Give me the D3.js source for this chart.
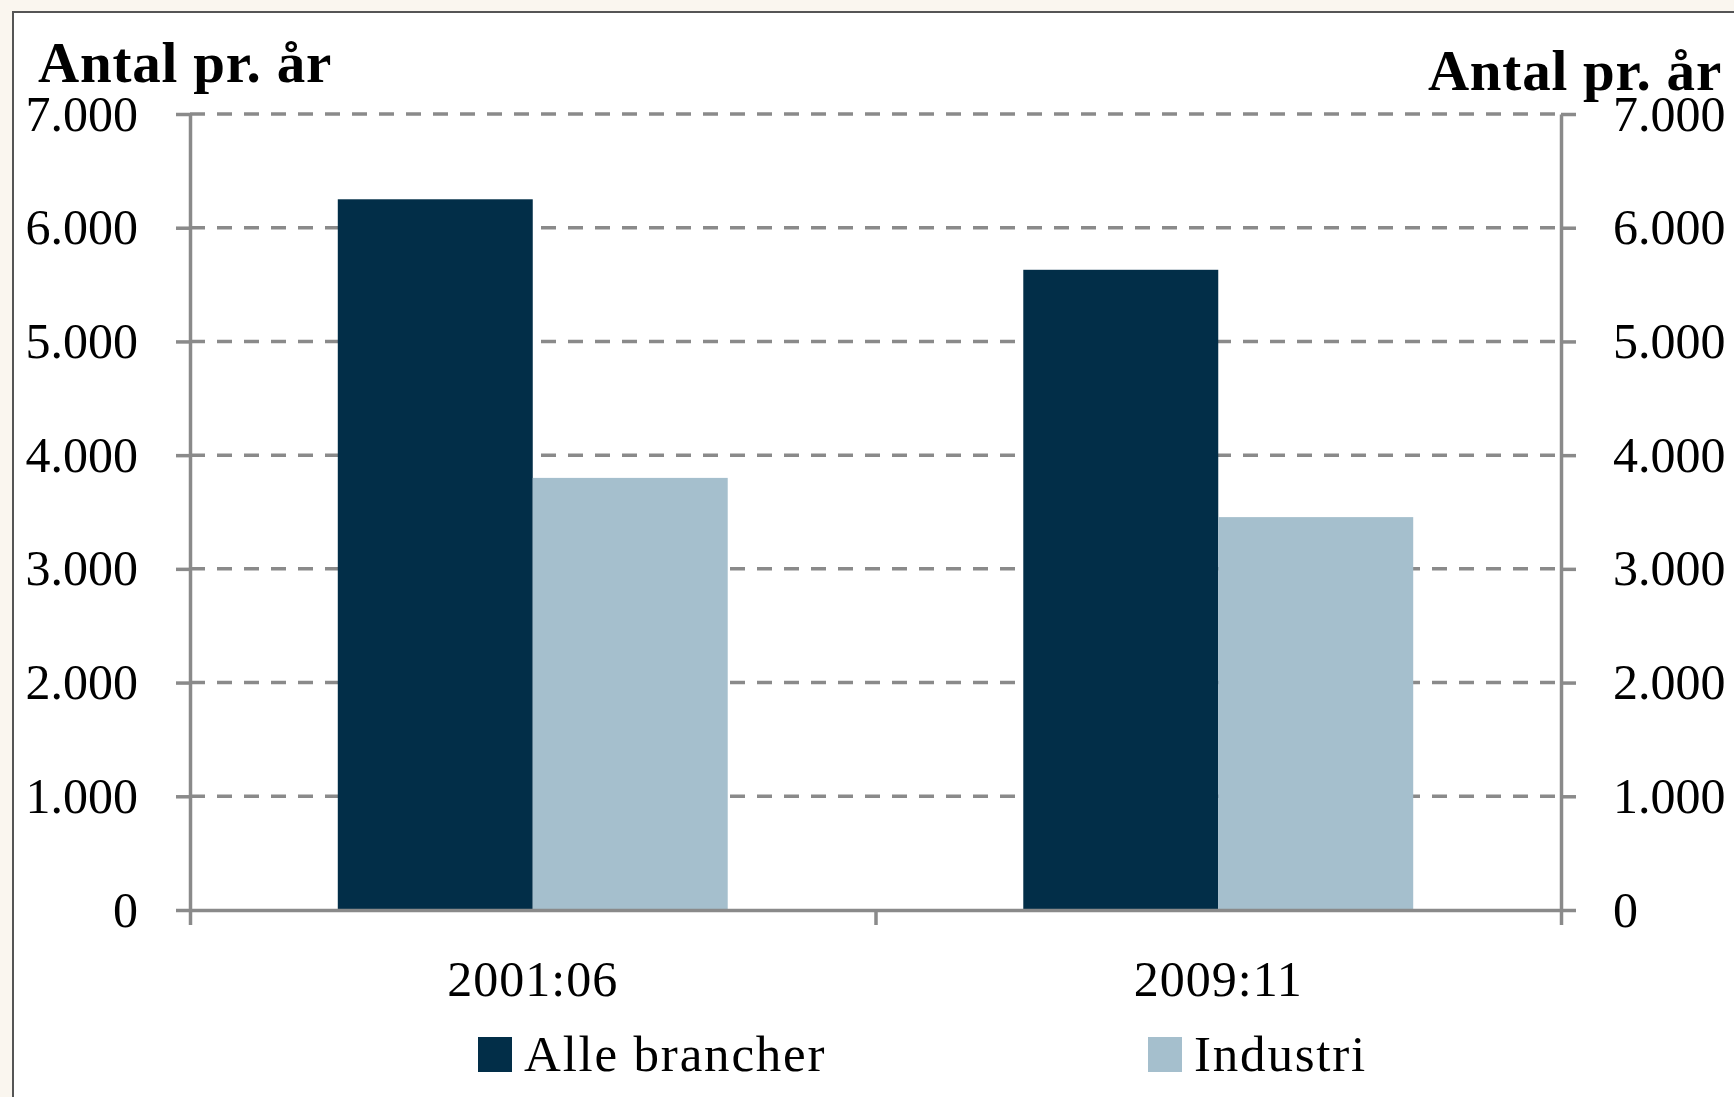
<!DOCTYPE html>
<html>
<head>
<meta charset="utf-8">
<script src="https://cdn.jsdelivr.net/npm/d3@7"></script>
<style>
  body { margin: 0; background: #faf6ef; }
  svg text { font-family: "Liberation Serif", "Times New Roman", serif; fill: #000; }
</style>
</head>
<body>
<div id="chart"></div>
<script>
// Data
var categories = ["2001:06", "2009:11"];
var seriesNames = ["Alle brancher", "Industri"];
var alleBrancher = [6250, 5630];
var industri = [3800, 3455];
var yTicks = [0, 1000, 2000, 3000, 4000, 5000, 6000, 7000];
var axisTitle = "Antal pr. år";

var colors = ["#022e48", "#a5bfcd"];

// SVG window
var svgWidth = 1734;
var svgHeight = 1097;

var plot = { left: 190, right: 1561, top: 114, bottom: 910 };

var svg = d3.select("#chart")
  .append("svg")
  .attr("width", svgWidth)
  .attr("height", svgHeight);

// frame
svg.append("rect")
  .attr("x", 13)
  .attr("y", 12)
  .attr("width", svgWidth)
  .attr("height", svgHeight)
  .attr("fill", "#fff")
  .attr("stroke", "#555")
  .attr("stroke-width", 2);

// Scales
var yScale = d3.scaleLinear()
  .domain([0, 7000])
  .range([plot.bottom, plot.top]);

var x0 = d3.scaleBand()
  .domain(categories)
  .range([plot.left, plot.right])
  .padding(0);

var x1 = d3.scaleBand()
  .domain(seriesNames)
  .range([0, x0.bandwidth()])
  .paddingInner(0)
  .paddingOuter(0.758);

var locale = d3.formatLocale({ decimal: ",", thousands: ".", grouping: [3], currency: ["", ""] });
var fmt = locale.format(",");

// Gridlines
svg.append("g")
  .selectAll("line")
  .data(yTicks.filter(d => d > 0))
  .enter()
  .append("line")
  .attr("x1", plot.left)
  .attr("x2", plot.right)
  .attr("y1", d => yScale(d))
  .attr("y2", d => yScale(d))
  .attr("stroke", "#8a8a8a")
  .attr("stroke-width", 3.5)
  .attr("stroke-dasharray", "15,12");

// Bars
var rows = categories.map((c, i) => ({ cat: c, values: [alleBrancher[i], industri[i]] }));

var groups = svg.append("g")
  .selectAll("g")
  .data(rows)
  .enter()
  .append("g")
  .attr("transform", d => `translate(${x0(d.cat)},0)`);

groups.selectAll("rect")
  .data(d => d.values.map((v, j) => ({ name: seriesNames[j], value: v, j: j })))
  .enter()
  .append("rect")
  .attr("x", d => x1(d.name))
  .attr("width", x1.bandwidth())
  .attr("y", d => yScale(d.value))
  .attr("height", d => yScale(0) - yScale(d.value))
  .attr("fill", d => colors[d.j]);

// Axes
function styleAxis(g) {
  g.selectAll("path, line").attr("stroke", "#8a8a8a").attr("stroke-width", 3.5);
  g.selectAll("text").style("font-size", "50px").attr("fill", "#000");
}

var leftAxis = d3.axisLeft(yScale)
  .tickValues(yTicks)
  .tickFormat(fmt)
  .tickSize(14)
  .tickSizeOuter(0)
  .tickPadding(38);

svg.append("g")
  .attr("transform", `translate(${plot.left},0)`)
  .call(leftAxis)
  .call(styleAxis);

var rightAxis = d3.axisRight(yScale)
  .tickValues(yTicks)
  .tickFormat(fmt)
  .tickSize(15)
  .tickSizeOuter(0)
  .tickPadding(37);

svg.append("g")
  .attr("transform", `translate(${plot.right},0)`)
  .call(rightAxis)
  .call(styleAxis);

// bottom axis with ticks on category boundaries
var boundary = d3.scaleLinear()
  .domain([0, categories.length])
  .range([plot.left, plot.right]);

var bottomAxis = d3.axisBottom(boundary)
  .tickValues(d3.range(categories.length + 1))
  .tickFormat("")
  .tickSize(15)
  .tickSizeOuter(0);

svg.append("g")
  .attr("transform", `translate(0,${plot.bottom})`)
  .call(bottomAxis)
  .call(styleAxis);

// category labels
var catAxis = d3.axisBottom(x0)
  .tickSize(0)
  .tickPadding(50);

var catG = svg.append("g")
  .attr("transform", `translate(0,${plot.bottom})`)
  .call(catAxis);
catG.select(".domain").remove();
catG.selectAll("text")
  .style("font-size", "50px")
  .style("letter-spacing", "1px")
  .attr("fill", "#000");

// Axis titles
svg.append("text")
  .attr("x", 38)
  .attr("y", 82)
  .style("font-size", "57px")
  .style("font-weight", "bold")
  .style("letter-spacing", "0.8px")
  .text(axisTitle);

svg.append("text")
  .attr("x", 1722)
  .attr("y", 90)
  .attr("text-anchor", "end")
  .style("font-size", "57px")
  .style("font-weight", "bold")
  .style("letter-spacing", "0.8px")
  .text(axisTitle);

// Legend
var legendX = [478, 1148];
var legend = svg.append("g")
  .selectAll("g")
  .data(seriesNames)
  .enter()
  .append("g")
  .attr("transform", (d, i) => `translate(${legendX[i]},1037)`);

legend.append("rect")
  .attr("width", 34)
  .attr("height", 35)
  .attr("fill", (d, i) => colors[i]);

legend.append("text")
  .attr("x", 46)
  .attr("y", 34)
  .style("font-size", "51px")
  .style("letter-spacing", "1.8px")
  .text(d => d);
</script>
</body>
</html>
